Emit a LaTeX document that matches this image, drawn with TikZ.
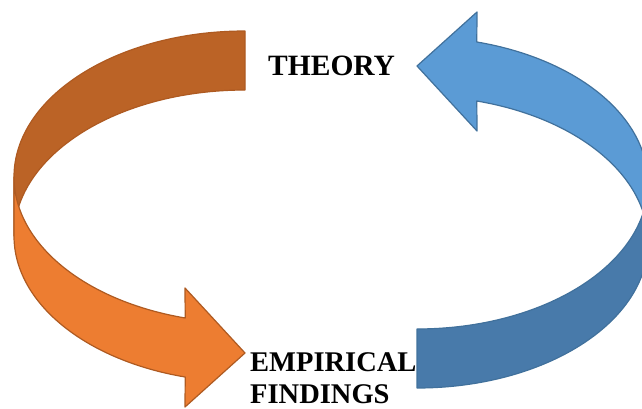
\documentclass[tikz,border=0pt]{standalone}
\usepackage{fontspec}
\setmainfont{Liberation Serif}
\definecolor{orangeback}{RGB}{187,99,38}
\definecolor{orangefront}{RGB}{237,125,49}
\definecolor{orangeedge}{RGB}{174,90,33}
\definecolor{blueback}{RGB}{72,122,170}
\definecolor{bluefront}{RGB}{91,155,213}
\definecolor{blueedge}{RGB}{65,113,156}

\begin{document}
\begin{tikzpicture}[x=1pt,y=1pt,line join=round,
  band/.style={draw=#1,line width=1.2pt},
  label/.style={inner sep=0pt,font=\fontsize{#1}{32}\selectfont\bfseries,align=left},
  label/.default=28.5]
\useasboundingbox (0,0) rectangle (642,408);
\coordinate (pivot) at (331,198.5);
% curved arrows, the second one turned half round
\foreach \rot/\back/\front/\edge in {0/orangeback/orangefront/orangeedge,180/blueback/bluefront/blueedge}{
  \begin{scope}[rotate around={\rot:(pivot)}]
  \draw[band=\edge,fill=\back] (245,377) arc[start angle=90,end angle=180,x radius=231,y radius=146]
    -- (14,172) arc[start angle=180,end angle=90,x radius=231,y radius=146] -- cycle;
  \draw[band=\edge,fill=\front] (14,231) -- (14,172) arc[start angle=180,end angle=255,x radius=231,y radius=146]
    -- (185,1) -- (245,55) -- (185,120) -- (185.2,90)
    arc[start angle=255,end angle=180,x radius=231,y radius=146] -- cycle;
  \end{scope}
}
\node[label=29.5,anchor=base west] (theory) at (268,333) {THEORY};
\node[label,anchor=north west] (findings) at (250,56) {EMPIRICAL\\FINDINGS};
\end{tikzpicture}
\end{document}
